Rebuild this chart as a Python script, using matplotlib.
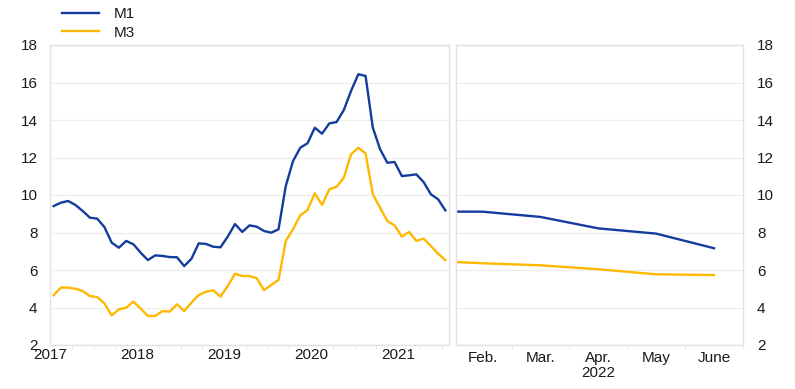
import matplotlib
matplotlib.use("Agg")
import matplotlib.pyplot as plt
from matplotlib.ticker import FixedLocator
from matplotlib.lines import Line2D
import numpy as np

plt.rcParams['font.family'] = ['Liberation Sans', 'DejaVu Sans']

# Monthly data Jan 2017 .. Jul 2021 (annual growth rates, %)
m1_hist = [9.41, 9.59, 9.68, 9.47, 9.15, 8.79, 8.74, 8.29, 7.46, 7.19, 7.55, 7.37,
           6.92, 6.53, 6.78, 6.75, 6.69, 6.68, 6.21, 6.60, 7.42, 7.39, 7.24, 7.21,
           7.78, 8.45, 8.03, 8.38, 8.31, 8.08, 7.99, 8.17, 10.48, 11.81, 12.52, 12.76,
           13.59, 13.27, 13.82, 13.89, 14.53, 15.55, 16.44, 16.35, 13.59, 12.44, 11.72, 11.76,
           11.01, 11.05, 11.10, 10.69, 10.04, 9.77, 9.18]
m3_hist = [4.65, 5.06, 5.06, 5.00, 4.88, 4.61, 4.56, 4.22, 3.58, 3.90, 3.99, 4.31,
           3.94, 3.55, 3.55, 3.81, 3.78, 4.17, 3.81, 4.26, 4.67, 4.84, 4.92, 4.58,
           5.15, 5.80, 5.68, 5.68, 5.56, 4.93, 5.20, 5.47, 7.55, 8.17, 8.92, 9.20,
           10.09, 9.47, 10.30, 10.44, 10.92, 12.17, 12.52, 12.22, 10.04, 9.32, 8.61, 8.38,
           7.78, 8.03, 7.55, 7.67, 7.28, 6.87, 6.53]
year_labels = ['2017', '2018', '2019', '2020', '2021']

# 2022 months (Jan .. June)
months_2022 = ['Jan.', 'Feb.', 'Mar.', 'Apr.', 'May', 'June']
m1_2022 = [9.12, 9.11, 8.83, 8.22, 7.94, 7.16]
m3_2022 = [6.50, 6.36, 6.25, 6.04, 5.77, 5.73]

BLUE = '#143c9c'
YELLOW = '#ffb800'
FRAME = '#e2e2e2'
GRID = '#eeeeee'
TXT = '#1a1a1a'
FS = 11

W, H = 795, 389
fig = plt.figure(figsize=(W / 100, H / 100), dpi=100)

def fx(px):
    return px / W

def fy(py):
    return 1 - py / H

axL = fig.add_axes([fx(50), fy(345), fx(449) - fx(50), fy(45) - fy(345)])
axR = fig.add_axes([fx(456), fy(345), fx(743) - fx(456), fy(45) - fy(345)])

x_hist = np.arange(len(m1_hist))
axL.plot(x_hist, m1_hist, color=BLUE, lw=1.7, solid_joinstyle='round')
axL.plot(x_hist, m3_hist, color=YELLOW, lw=1.7, solid_joinstyle='round')

x_22 = np.arange(len(m1_2022))
axR.plot(x_22, m1_2022, color=BLUE, lw=1.7)
axR.plot(x_22, m3_2022, color=YELLOW, lw=1.7)

for ax in (axL, axR):
    ax.set_ylim(2, 18)
    ax.set_yticks(np.arange(2, 19, 2))
    ax.grid(axis='y', color=GRID, lw=0.9)
    ax.set_axisbelow(True)
    for s in ax.spines.values():
        s.set_color(FRAME)
        s.set_linewidth(1.0)
    ax.tick_params(axis='both', which='both', labelsize=FS, colors=TXT)
    ax.tick_params(axis='y', length=0, pad=9)

# Left panel
axL.set_xlim(-0.5, 54.5)
axL.set_xticks([12 * i - 0.5 for i in range(len(year_labels))])
axL.set_xticklabels(year_labels)
axL.xaxis.set_minor_locator(FixedLocator([q - 0.5 for q in range(3, 55, 3)]))
axL.tick_params(axis='x', which='major', length=0, pad=2)
axL.tick_params(axis='x', which='minor', length=3, color=FRAME)
axL.yaxis.set_ticks_position('left')

# Right panel
axR.set_xlim(0.54, 5.5)
axR.set_xticks(x_22[1:])
axR.set_xticklabels(months_2022[1:])
axR.xaxis.set_minor_locator(FixedLocator([1.5, 2.5, 3.5, 4.5, 5.5]))
axR.tick_params(axis='x', which='major', length=0, pad=4)
axR.tick_params(axis='x', which='minor', length=3, color=FRAME)
axR.yaxis.tick_right()
axR.tick_params(axis='y', left=False, labelleft=False, right=False, labelright=True, pad=10)
axR.annotate('2022', xy=(3, 0), xycoords=axR.get_xaxis_transform(),
             xytext=(0, -28), textcoords='offset pixels', ha='center', va='center',
             fontsize=FS, color=TXT)

# Legend
handles = [Line2D([], [], color=BLUE, lw=1.7), Line2D([], [], color=YELLOW, lw=1.7)]
fig.legend(handles, ['M1', 'M3'], loc='upper left', bbox_to_anchor=(fx(62), fy(7)),
           frameon=False, borderpad=0, borderaxespad=0, handlelength=2.4,
           handletextpad=1.0, labelspacing=0.3, fontsize=FS, labelcolor=TXT)

fig.savefig('out.png', dpi=100)
